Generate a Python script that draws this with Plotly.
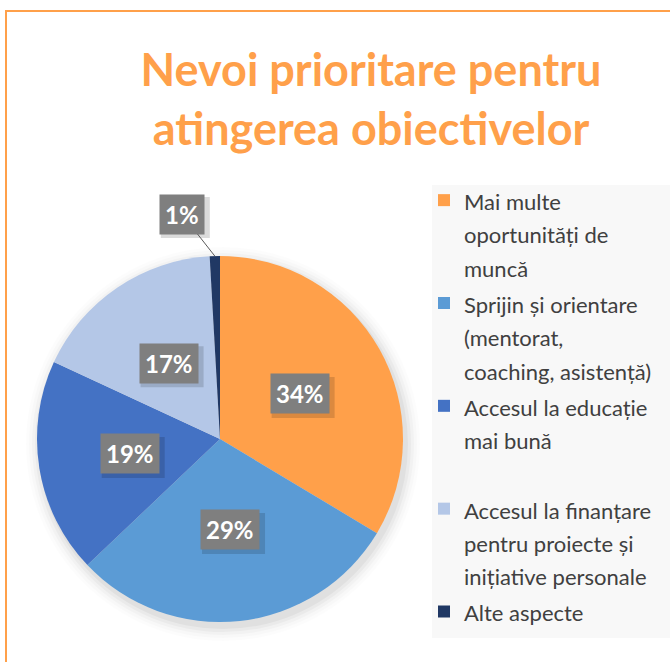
import math
import plotly.graph_objects as go

# ---- data ----
categories = [
    "Mai multe<br>oportunități de<br>muncă",
    "Sprijin și orientare<br>(mentorat,<br>coaching, asistență)",
    "Accesul la educație<br>mai bună<br>&nbsp;",
    "Accesul la finanțare<br>pentru proiecte și<br>inițiative personale",
    "Alte aspecte",
]
values = [33.6, 29.3, 19.0, 17.2, 0.9]
colors = ["#FFA04A", "#5B9BD5", "#4472C4", "#B4C7E7", "#203864"]
title_text = "Nevoi prioritare pentru<br>atingerea obiectivelor"

W, H = 670, 662
# pie geometry (pixels)
CX, CY, R = 220, 439, 183
LEG_TXT = 22  # rendered legend text size


def px_x(x):
    return x / W


def px_y(y):
    return 1 - y / H


def leg_label(s):
    return "<br>".join(f'<span style="font-size:{LEG_TXT}px">{p}</span>' for p in s.split("<br>"))


fig = go.Figure()
fig.add_trace(go.Pie(
    labels=[leg_label(c) for c in categories],
    values=values,
    sort=False,
    direction="clockwise",
    rotation=0,
    marker=dict(colors=colors, line=dict(width=0)),
    textinfo="none",
    hoverinfo="percent",
    domain=dict(x=[px_x(CX - R), px_x(CX + R)], y=[px_y(CY + R), px_y(CY - R)]),
    showlegend=True,
))

shapes = []
# soft shadow behind the pie
for grow, op in [(14, 0.012), (11, 0.016), (8, 0.022), (5, 0.03), (2, 0.04)]:
    rr = R + grow
    shapes.append(dict(
        type="circle", xref="paper", yref="paper", layer="below",
        x0=px_x(CX + 3 - rr), x1=px_x(CX + 3 + rr),
        y0=px_y(CY + 5 + rr), y1=px_y(CY + 5 - rr),
        fillcolor=f"rgba(0,0,0,{op})", line=dict(width=0),
    ))
# legend background
shapes.append(dict(
    type="rect", xref="paper", yref="paper", layer="below",
    x0=px_x(432), x1=1.0, y0=px_y(638), y1=px_y(185),
    fillcolor="#F8F8F8", line=dict(width=0),
))
# outer orange frame
shapes.append(dict(
    type="rect", xref="paper", yref="paper", layer="above",
    x0=px_x(6), x1=1.2, y0=-0.2, y1=px_y(11),
    fillcolor="rgba(0,0,0,0)", line=dict(color="#FFA04A", width=2),
))

# data labels (grey boxes) placed at half radius on slice mid-angle
annotations = []
total = sum(values)
cum = 0.0
for v in values:
    mid = (cum + v / 2) / total * 2 * math.pi
    cum += v
    pct = f"{round(v / total * 100):d}%"
    small = v / total < 0.05
    if small:
        tipx = CX + R * math.sin(mid)
        tipy = CY - R * math.cos(mid)
        lx, ly = tipx - 33, tipy - 42
        bw = 24
    else:
        lx = CX + 0.5 * R * math.sin(mid)
        ly = CY - 0.5 * R * math.cos(mid)
        bw = 31
    # box shadow
    shapes.append(dict(
        type="rect", layer="above",
        xref="paper", yref="paper", xsizemode="pixel", ysizemode="pixel",
        xanchor=px_x(lx), yanchor=px_y(ly),
        x0=-bw + 3, x1=bw + 4, y0=-20 - 4, y1=20 - 3,
        fillcolor="rgba(0,0,0,0.14)", line=dict(width=0),
    ))
    ann = dict(
        x=px_x(lx), y=px_y(ly), xref="paper", yref="paper",
        xanchor="center", yanchor="middle",
        text=f"<b>{pct}</b>", showarrow=False,
        font=dict(family="Lato", size=24, color="white"),
        bgcolor="#7F7F7F", borderpad=5,
    )
    if small:
        ann.update(
            x=px_x(tipx), y=px_y(tipy), showarrow=True, arrowhead=0,
            arrowwidth=1, arrowcolor="#595959", ax=lx - tipx, ay=ly - tipy,
        )
    annotations.append(ann)

fig.update_layout(
    width=W, height=H,
    margin=dict(l=0, r=0, t=0, b=0),
    paper_bgcolor="white",
    plot_bgcolor="white",
    title=dict(
        text=f"<b>{title_text}</b>",
        x=371 / W, xanchor="center", xref="paper",
        y=1 - 86 / H, yanchor="top", yref="container",
        font=dict(family="Lato", size=45, color="#FFA04A"),
    ),
    legend=dict(
        x=px_x(424), xanchor="left", y=px_y(177), yanchor="top",
        bgcolor="rgba(0,0,0,0)", valign="top",
        font=dict(family="Lato", size=25.6, color="#404040"),
        itemclick=False,
    ),
    shapes=shapes,
    annotations=annotations,
)

fig.write_html("out.html", config={"displayModeBar": False},
               post_script="document.body.style.margin='0px';")
